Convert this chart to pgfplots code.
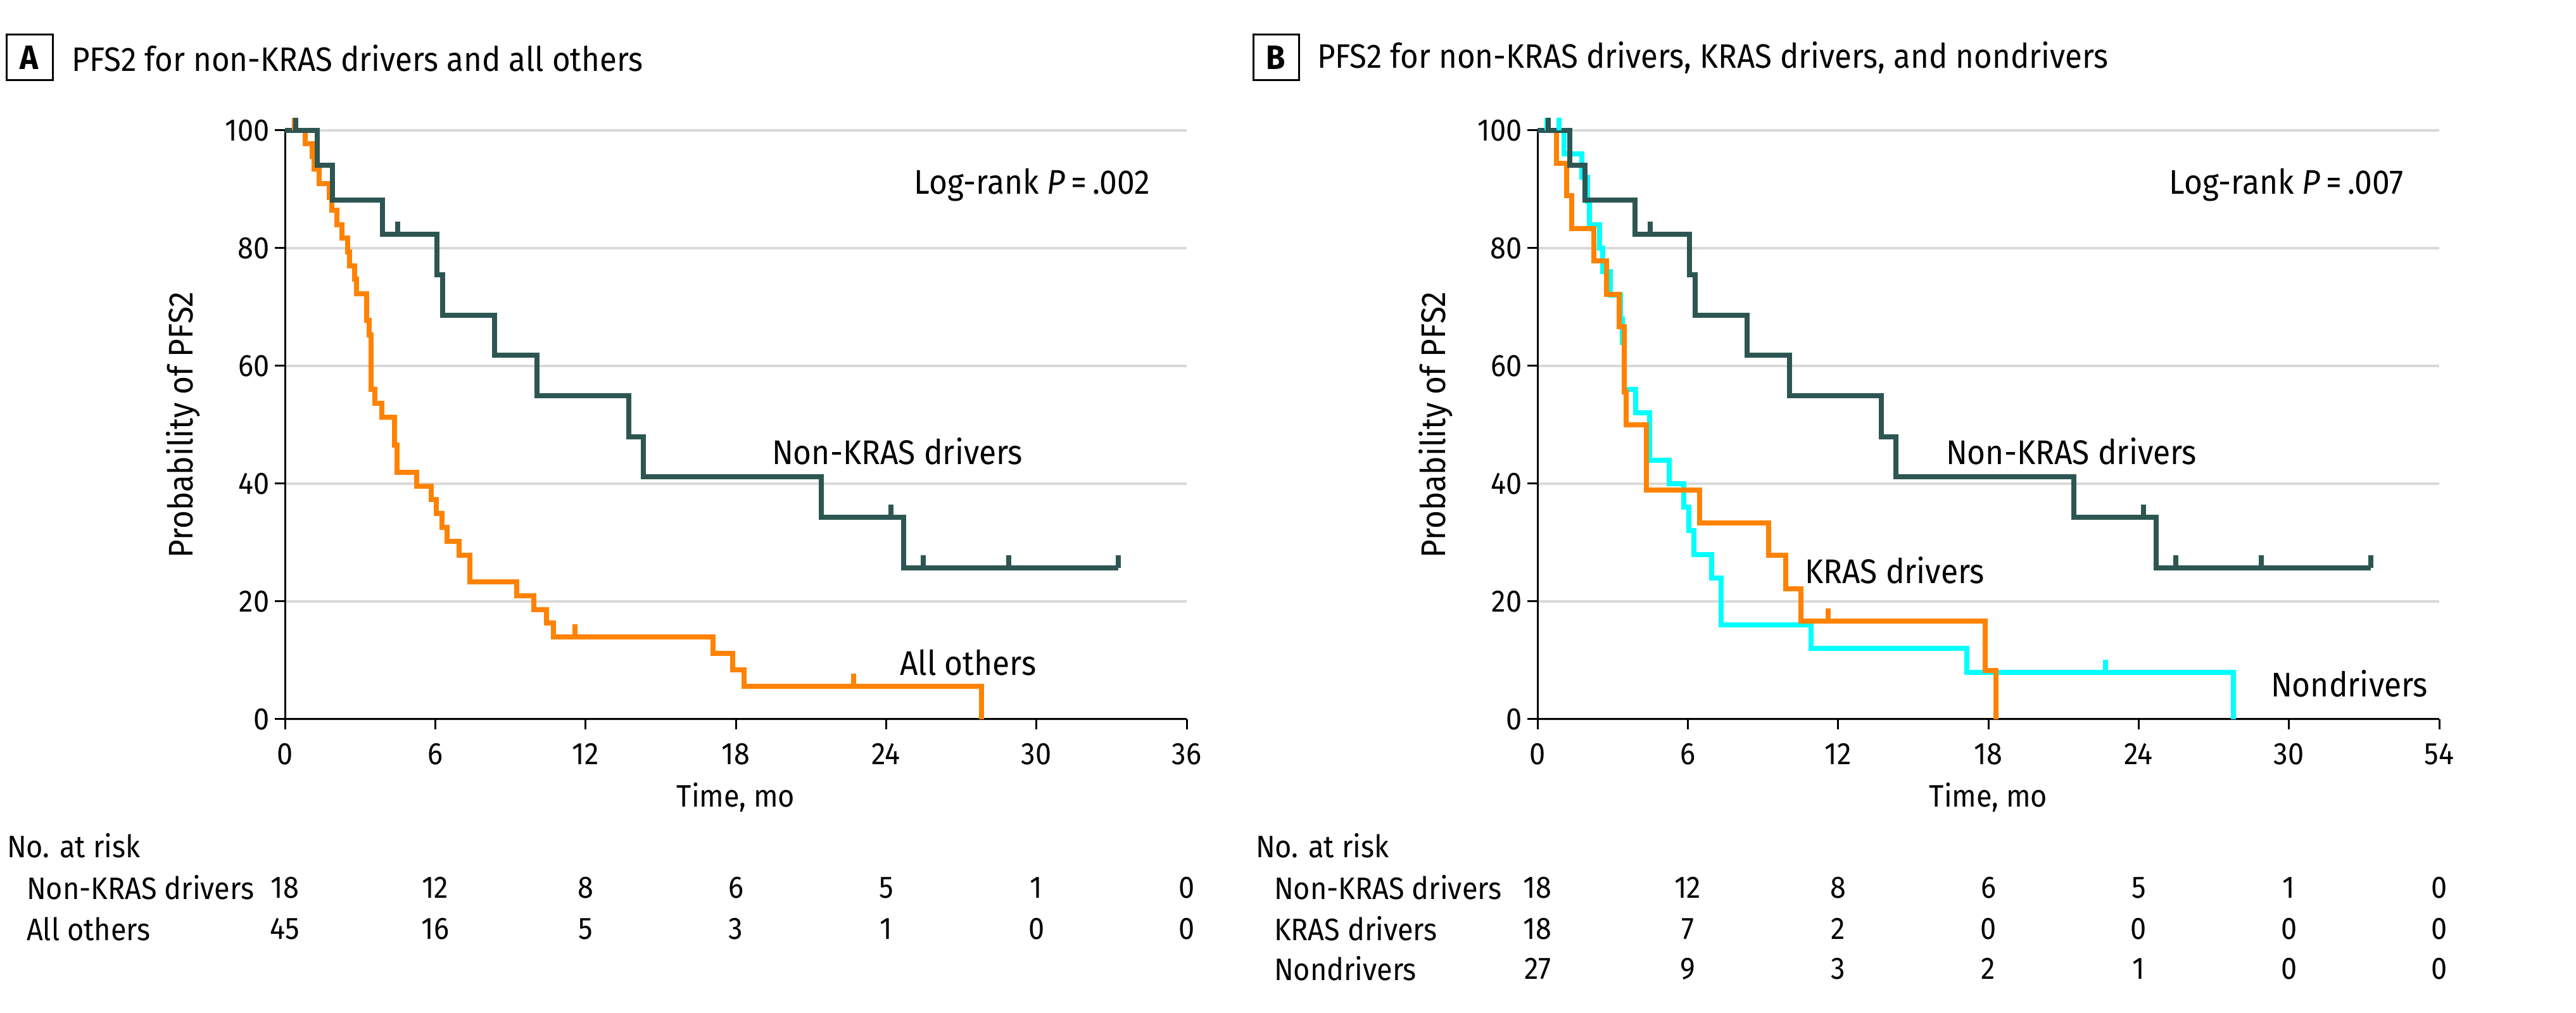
\documentclass[border=0pt]{standalone}
\usepackage{pgfplots}
\pgfplotsset{compat=1.18}
\usepackage{fontspec}
\setmainfont{Fira Sans}[FakeStretch=0.92]
\definecolor{teal}{HTML}{2D5653}
\definecolor{korange}{HTML}{FF8200}
\definecolor{kcyan}{HTML}{00FFFF}
\definecolor{gridgray}{HTML}{D9D9D9}
\pgfdeclareplotmark{cens}{\pgfpathmoveto{\pgfpoint{0pt}{0pt}}\pgfpathlineto{\pgfpoint{0pt}{4pt}}\pgfusepathqstroke}
\newcommand{\tabfont}{\fontsize{9.8}{11}\selectfont}
\newcommand{\labfont}{\fontsize{10.8}{12}\selectfont}
\newcommand{\titfont}{\fontsize{10.7}{12}\selectfont}
\pgfplotsset{
  kmaxis/.style={
    scale only axis, width=284.8pt, height=186pt,
    xmin=0, xmax=36, ymin=0, ymax=100,
    clip=false,
    axis x line=bottom, axis y line=left,
    axis line style={-, black, line width=0.6pt},
    xtick={0,6,...,36}, ytick={0,20,...,100},
    tick align=outside, major tick length=3.2pt,
    tick style={black, line width=0.6pt},
    ymajorgrids, grid style={gridgray, line width=0.8pt},
    /pgf/number format/assume math mode=true,
    ticklabel style={font=\tabfont},
    xticklabel style={yshift=-1pt},
    yticklabel style={xshift=1.8pt},
    xlabel={Time, mo}, ylabel={Probability of PFS2},
    xlabel style={font=\tabfont, at={(axis description cs:0.5,-0.1333)}, anchor=center},
    ylabel style={font=\labfont, at={(axis description cs:-0.113,0.5)}, anchor=center},
  },
  km/.style={const plot, line width=1.6pt, line join=miter, line cap=butt},
  cn/.style={only marks, mark=cens, mark options={line width=1.6pt, line cap=butt}},
}
\begin{document}
\begin{tikzpicture}
\path[use as bounding box] (0pt,0pt) rectangle (813.6pt,320pt);

% ---------- Panel A ----------
\node[draw, line width=0.6pt, minimum width=14.6pt, minimum height=14.4pt, inner sep=0pt, font=\titfont\bfseries] at (9.3pt,301.8pt) {A};
\node[anchor=west, inner sep=0pt, font=\titfont] at (22.4pt,301.7pt) {PFS2 for non-KRAS drivers and all others};

\begin{axis}[kmaxis, at={(90pt,92.8pt)}, anchor=south west]
% All others
\addplot[km, korange] coordinates {
(0,100) (0.80,97.7) (1.08,95.6) (1.16,93.4) (1.37,91.0) (1.77,88.6) (1.88,86.4) (2.08,84.0)
(2.27,81.7) (2.49,79.3) (2.59,77.0) (2.78,74.7) (2.86,72.3) (3.27,67.7) (3.37,65.3)
(3.45,56.0) (3.58,53.6) (3.88,51.3) (4.38,46.6) (4.47,41.9) (5.27,39.6) (5.85,37.3)
(6.05,34.9) (6.26,32.6) (6.46,30.2) (6.95,27.9) (7.37,23.3) (9.24,21.0) (9.94,18.6)
(10.45,16.3) (10.72,14.0) (17.1,11.2) (17.88,8.4) (18.32,5.6) (27.8,0)};
\addplot[cn, korange] coordinates {(0.38,100) (11.58,14.0) (22.7,5.6)};
% Non-KRAS drivers
\addplot[km, teal] coordinates {
(0,100) (1.30,94.1) (1.90,88.2) (3.89,82.4) (6.07,75.5) (6.29,68.6) (8.37,61.8)
(10.05,54.9) (13.72,48.0) (14.30,41.2) (21.40,34.3) (24.71,25.7) (33.28,25.7)};
\addplot[cn, teal] coordinates {(0.44,100) (4.51,82.4) (24.2,34.3) (25.49,25.7) (28.9,25.7) (33.28,25.7)};
\end{axis}

\node[anchor=east, inner sep=0pt, font=\labfont] at (363.4pt,261.6pt) {Log-rank \textit{P}\,=\,.002};
\node[anchor=west, inner sep=0pt, font=\labfont] at (243.6pt,177.4pt) {Non-KRAS drivers};
\node[anchor=west, inner sep=0pt, font=\labfont] at (284pt,110.6pt) {All others};

% risk table A
\node[anchor=west, inner sep=0pt, font=\tabfont] at (2pt,52.8pt) {No. at risk};
\node[anchor=west, inner sep=0pt, font=\tabfont] at (8.2pt,39.6pt) {Non-KRAS drivers};
\node[anchor=west, inner sep=0pt, font=\tabfont] at (8.2pt,26.6pt) {All others};
\foreach \x/\a/\b in {90/18/45, 137.47/12/16, 184.93/8/5, 232.4/6/3, 279.87/5/1, 327.33/1/0, 374.8/0/0}{
  \node[inner sep=0pt, font=\tabfont] at (\x pt,39.6pt) {\a};
  \node[inner sep=0pt, font=\tabfont] at (\x pt,26.6pt) {\b};
}

% ---------- Panel B ----------
\node[draw, line width=0.6pt, minimum width=14.4pt, minimum height=14.4pt, inner sep=0pt, font=\titfont\bfseries] at (403pt,301.8pt) {B};
\node[anchor=west, inner sep=0pt, font=\titfont] at (415.8pt,301.7pt) {PFS2 for non-KRAS drivers, KRAS drivers, and nondrivers};

\begin{axis}[kmaxis, at={(485.6pt,92.8pt)}, anchor=south west, xticklabels={0,6,12,18,24,30,54}]
% Nondrivers
\addplot[km, kcyan] coordinates {
(0,100) (1.05,96.0) (1.78,92.0) (2.00,88.0) (2.07,84.0) (2.48,80.0) (2.60,76.0) (2.90,72.0)
(3.30,68.0) (3.38,64.0) (3.46,56.0) (3.93,52.0) (4.48,44.0) (5.26,40.0) (5.85,36.0)
(6.04,32.0) (6.25,28.0) (6.95,24.0) (7.34,16.0) (10.92,12.0) (17.15,8.0) (27.78,0)};
\addplot[cn, kcyan] coordinates {(0.37,100) (0.85,100) (22.67,8.0)};
% KRAS drivers
\addplot[km, korange] coordinates {
(0,100) (0.75,94.4) (1.16,88.9) (1.36,83.3) (2.24,77.8) (2.75,72.2) (3.25,66.7)
(3.45,55.6) (3.55,50.0) (4.35,38.9) (6.46,33.3) (9.22,27.8) (9.92,22.2) (10.52,16.7)
(17.88,8.3) (18.29,0)};
\addplot[cn, korange] coordinates {(11.6,16.7)};
% Non-KRAS drivers
\addplot[km, teal] coordinates {
(0,100) (1.30,94.1) (1.90,88.2) (3.89,82.4) (6.07,75.5) (6.29,68.6) (8.37,61.8)
(10.05,54.9) (13.72,48.0) (14.30,41.2) (21.40,34.3) (24.71,25.7) (33.28,25.7)};
\addplot[cn, teal] coordinates {(0.44,100) (4.51,82.4) (24.2,34.3) (25.49,25.7) (28.9,25.7) (33.28,25.7)};
\end{axis}

\node[anchor=east, inner sep=0pt, font=\labfont] at (759.2pt,261.6pt) {Log-rank \textit{P}\,=\,.007};
\node[anchor=west, inner sep=0pt, font=\labfont] at (614.4pt,177.4pt) {Non-KRAS drivers};
\node[anchor=west, inner sep=0pt, font=\labfont] at (569.8pt,139.8pt) {KRAS drivers};
\node[anchor=west, inner sep=0pt, font=\labfont] at (717pt,104pt) {Nondrivers};

% risk table B
\node[anchor=west, inner sep=0pt, font=\tabfont] at (396.4pt,52.8pt) {No. at risk};
\node[anchor=west, inner sep=0pt, font=\tabfont] at (402.2pt,39.6pt) {Non-KRAS drivers};
\node[anchor=west, inner sep=0pt, font=\tabfont] at (402.2pt,26.6pt) {KRAS drivers};
\node[anchor=west, inner sep=0pt, font=\tabfont] at (402.2pt,14pt) {Nondrivers};
\foreach \x/\a/\b/\c in {485.6/18/18/27, 533.07/12/7/9, 580.53/8/2/3, 628/6/0/2, 675.47/5/0/1, 722.93/1/0/0, 770.4/0/0/0}{
  \node[inner sep=0pt, font=\tabfont] at (\x pt,39.6pt) {\a};
  \node[inner sep=0pt, font=\tabfont] at (\x pt,26.6pt) {\b};
  \node[inner sep=0pt, font=\tabfont] at (\x pt,14pt) {\c};
}
\end{tikzpicture}
\end{document}
